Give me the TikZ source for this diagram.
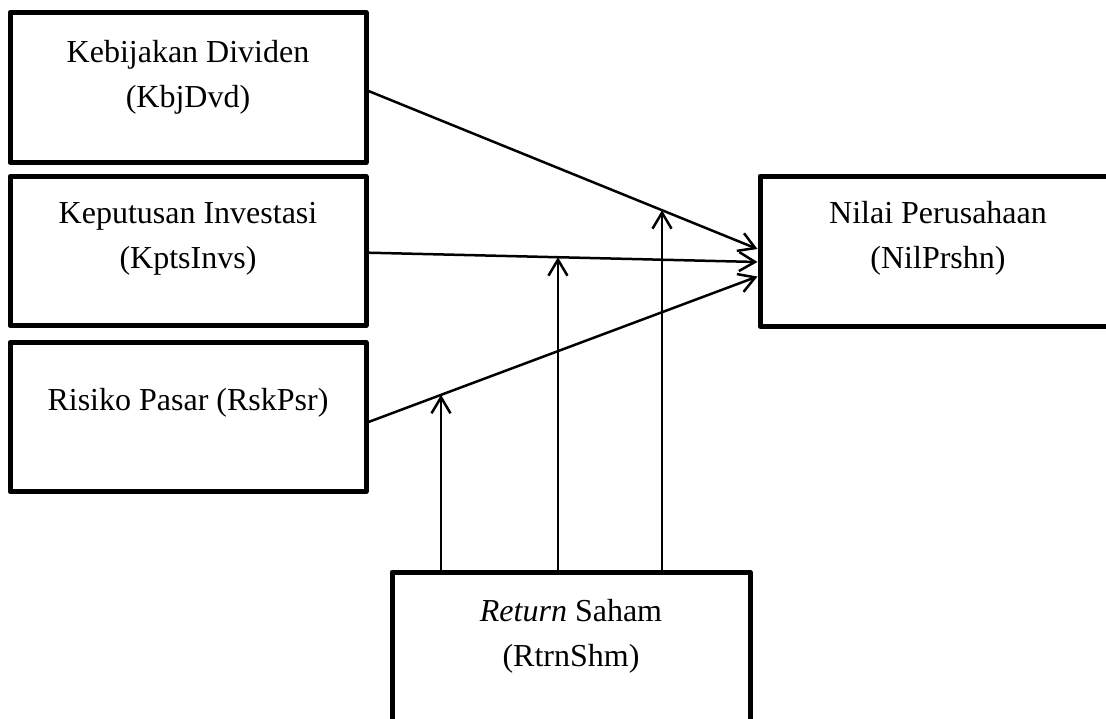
\documentclass[tikz,border=0pt]{standalone}
\usepackage{fontspec}
\setmainfont{Liberation Serif}
\usetikzlibrary{arrows.meta,calc}
\begin{document}
\begin{tikzpicture}[x=1pt,y=-1pt,
  box/.style={draw,line width=5pt,line join=round,rectangle,minimum width=356pt,minimum height=150pt,inner sep=0pt},
  txt/.style={font=\fontsize{32pt}{45pt}\selectfont,align=center,inner sep=0pt},
  conn/.style={line width=2.5pt,-{Straight Barb[length=16pt,width=19pt,line width=2.5pt]}}]
\clip (0,0) rectangle (1106,718);
\node[box] (kbj) at (188,87.5) {};
\node[box,minimum height=149pt] (kpts) at (188,251) {};
\node[box,minimum height=149pt] (rsk) at (188,417) {};
\node[box] (nil) at (938,251) {};
\node[box,minimum width=358pt] (ret) at (571,647) {};
\node[txt,yshift=10pt] (tkbj) at (kbj.center) {Kebijakan Dividen\\(KbjDvd)};
\node[txt,yshift=12.5pt] (tkpts) at (kpts.center) {Keputusan Investasi\\(KptsInvs)};
\node[txt,yshift=14pt] (trsk) at (rsk.center) {Risiko Pasar (RskPsr)};
\node[txt,yshift=12.5pt] (tnil) at (nil.center) {Nilai Perusahaan\\(NilPrshn)};
\node[txt,yshift=10.5pt] (tret) at (ret.center) {\textit{Return} Saham\\(RtrnShm)};
\coordinate (s1) at ([yshift=-3.5pt]kbj.east);
\coordinate (e1) at ([yshift=2pt]nil.west);
\coordinate (s2) at ([yshift=-1.7pt]kpts.east);
\coordinate (e2) at ([yshift=-11pt]nil.west);
\coordinate (s3) at ([yshift=-5pt]rsk.east);
\coordinate (e3) at ([yshift=-25.5pt]nil.west);
\draw[conn] (s1) -- (e1);
\draw[conn] (s2) -- (e2);
\draw[conn] (s3) -- (e3);
\coordinate (m1) at ($(s1)!0.7545!(e1)$);
\coordinate (m2) at ($(s2)!0.487!(e2)$);
\coordinate (m3) at ($(s3)!0.1864!(e3)$);
\draw[conn] (m1 |- ret.north) -- (m1);
\draw[conn] (m2 |- ret.north) -- (m2);
\draw[conn] (m3 |- ret.north) -- (m3);
\end{tikzpicture}
\end{document}
